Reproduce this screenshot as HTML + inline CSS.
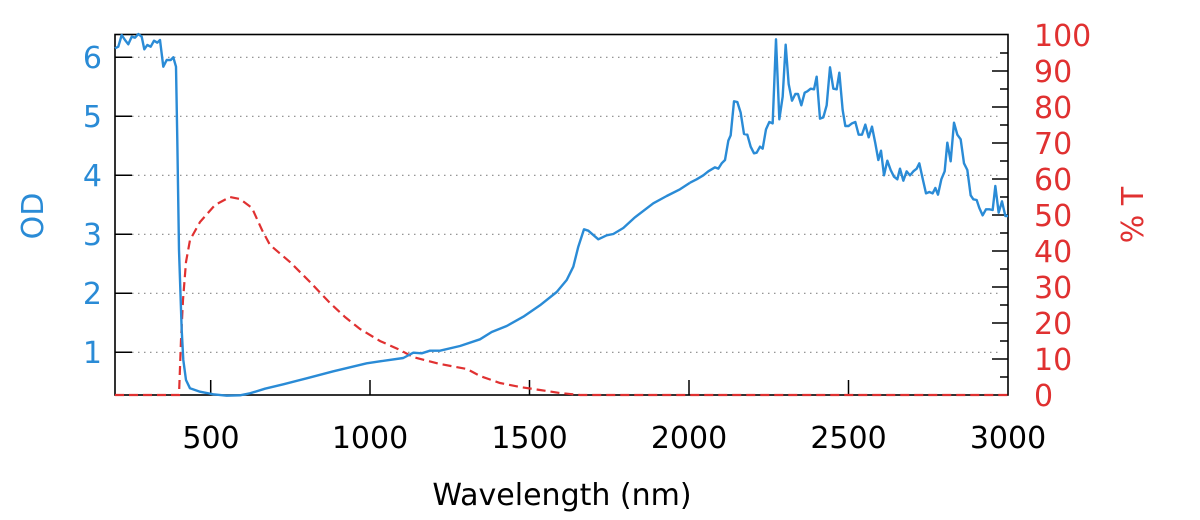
<!DOCTYPE html>
<html><head><meta charset="utf-8"><style>
html,body{margin:0;padding:0;background:#fff;}
svg{display:block;}
text{font-family:"DejaVu Sans","Liberation Sans",sans-serif;}
</style></head><body>
<svg width="1200" height="520" viewBox="0 0 1200 520" xmlns="http://www.w3.org/2000/svg">
<g stroke="#888" stroke-width="1.2" stroke-dasharray="1.5,4.5">
<line x1="132" y1="57.3" x2="1000" y2="57.3"/>
<line x1="132" y1="116.3" x2="1000" y2="116.3"/>
<line x1="132" y1="175.3" x2="1000" y2="175.3"/>
<line x1="132" y1="234.3" x2="1000" y2="234.3"/>
<line x1="132" y1="293.3" x2="1000" y2="293.3"/>
<line x1="132" y1="352.3" x2="1000" y2="352.3"/>
</g>
<g stroke="#000" stroke-width="1.5">
<line x1="115" y1="57.3" x2="132" y2="57.3"/>
<line x1="115" y1="116.3" x2="132" y2="116.3"/>
<line x1="115" y1="175.3" x2="132" y2="175.3"/>
<line x1="115" y1="234.3" x2="132" y2="234.3"/>
<line x1="115" y1="293.3" x2="132" y2="293.3"/>
<line x1="115" y1="352.3" x2="132" y2="352.3"/>
<line x1="210.7" y1="395" x2="210.7" y2="380"/>
<line x1="370" y1="395" x2="370" y2="380"/>
<line x1="529.5" y1="395" x2="529.5" y2="380"/>
<line x1="689" y1="395" x2="689" y2="380"/>
<line x1="848.5" y1="395" x2="848.5" y2="380"/>
</g>
<g stroke="#000" stroke-width="1.5">
<line x1="992" y1="359" x2="1008" y2="359"/><line x1="1000" y1="377" x2="1008" y2="377"/>
<line x1="992" y1="323" x2="1008" y2="323"/><line x1="1000" y1="341" x2="1008" y2="341"/>
<line x1="992" y1="287" x2="1008" y2="287"/><line x1="1000" y1="305" x2="1008" y2="305"/>
<line x1="992" y1="251" x2="1008" y2="251"/><line x1="1000" y1="269" x2="1008" y2="269"/>
<line x1="992" y1="215" x2="1008" y2="215"/><line x1="1000" y1="233" x2="1008" y2="233"/>
<line x1="992" y1="179" x2="1008" y2="179"/><line x1="1000" y1="197" x2="1008" y2="197"/>
<line x1="992" y1="143" x2="1008" y2="143"/><line x1="1000" y1="161" x2="1008" y2="161"/>
<line x1="992" y1="107" x2="1008" y2="107"/><line x1="1000" y1="125" x2="1008" y2="125"/>
<line x1="992" y1="71" x2="1008" y2="71"/><line x1="1000" y1="89" x2="1008" y2="89"/>
<line x1="1000" y1="53" x2="1008" y2="53"/>
</g>
<rect x="115" y="34.5" width="893" height="360.5" fill="none" stroke="#000" stroke-width="1.6"/>
<polyline fill="none" stroke="#e03131" stroke-width="2.2" stroke-dasharray="9,5" points="115,395 179,395 181,340 183,300 186,262 190,240 200,222 215,205 230,197 240,199 252,208 262,230 270,245 290,262 310,282 330,303 345,317 360,329 380,341 400,350 413,357 440,364 467,369 480,376 500,383 520,387 540,390 560,393 580,395 1008,395"/>
<polyline fill="none" stroke="#2a8bd6" stroke-width="2.4" stroke-linejoin="round" points="115,48.3 118.3,46.7 121.7,35 125,40 128.3,44.3 131.7,36.7 135,37.7 138.3,34 141.7,36.7 144.3,49.3 147.3,45 150.7,46.7 154,40.7 157.3,42.7 160,40 163.3,66.7 166.7,60 170.7,60 173.3,57.3 176,66.7 177.3,140 179,250 181.7,330 183.3,360 186,380 190,388.3 200,391.7 213.3,394.3 226.7,395.7 240,395.3 250,393.3 265,388.7 283.3,384.3 306.7,378.3 333.3,371.3 366.7,363.3 380,361.3 403.3,358 413.3,352.7 421.7,353.3 430,350.7 440,350.7 460,346 480,339.3 491.7,332 506.7,326 523.3,316.7 540,305.3 556.7,292 566.7,280 573.3,266.7 578.3,246.7 584,229.3 588.3,230.7 598.3,239.3 606.7,235.3 613.3,234 623.3,228 635,217.3 653.3,203.3 666.7,196 680,189.3 690,182.7"/>
<g transform="translate(690,30) scale(0.33333)">
<polyline fill="none" stroke="#2a8bd6" stroke-width="2.4" stroke-linejoin="round" vector-effect="non-scaling-stroke" points="0,458 20,448 40,436 55,424 75,412 85,416 95,400 105,390 115,332 122,316 132,214 142,216 152,248 162,312 172,314 182,350 192,370 200,368 210,350 218,356 228,298 238,276 248,280 258,28 268,268 278,200 287,44 296,162 306,212 316,192 324,192 334,226 344,188 352,184 362,176 372,178 380,140 390,266 400,262 410,226 420,112 430,176 440,178 448,128 458,240 466,288 476,288 486,280 496,276 506,314 516,314 526,284 536,322 546,290 556,340 565,390 573,362 582,436 592,392 602,420 612,440 622,448 630,416 640,452 650,424 660,436 670,424 680,416 688,400 698,446 708,490 718,486 728,490 736,474 744,494 754,448 764,424 772,338 782,394 792,278 802,314 812,328 822,400 832,420 842,496 850,508 860,510 868,534 878,556 888,538 898,538 908,540 916,468 926,548 936,514 946,558 954,558"/>
</g>
<g fill="#2a8bd6" font-size="30" text-anchor="end">
<text x="102" y="68">6</text><text x="102" y="127">5</text><text x="102" y="186">4</text>
<text x="102" y="245">3</text><text x="102" y="304">2</text><text x="102" y="363">1</text>
</g>
<text fill="#2a8bd6" font-size="30" transform="translate(43,216) rotate(-90)" text-anchor="middle">OD</text>
<g fill="#e03131" font-size="30" text-anchor="start">
<text x="1034" y="46">100</text><text x="1034" y="82">90</text><text x="1034" y="118">80</text>
<text x="1034" y="154">70</text><text x="1034" y="190">60</text><text x="1034" y="226">50</text>
<text x="1034" y="262">40</text><text x="1034" y="298">30</text><text x="1034" y="334">20</text>
<text x="1034" y="370">10</text><text x="1034" y="406">0</text>
</g>
<text fill="#e03131" font-size="30" transform="translate(1143,215) rotate(-90)" text-anchor="middle">% T</text>
<g fill="#000" font-size="30" text-anchor="middle">
<text x="211" y="448">500</text><text x="370" y="448">1000</text><text x="529.5" y="448">1500</text>
<text x="689" y="448">2000</text><text x="848.5" y="448">2500</text><text x="1008" y="448">3000</text>
</g>
<text fill="#000" font-size="30" x="562" y="505" text-anchor="middle">Wavelength (nm)</text>
</svg>
</body></html>
